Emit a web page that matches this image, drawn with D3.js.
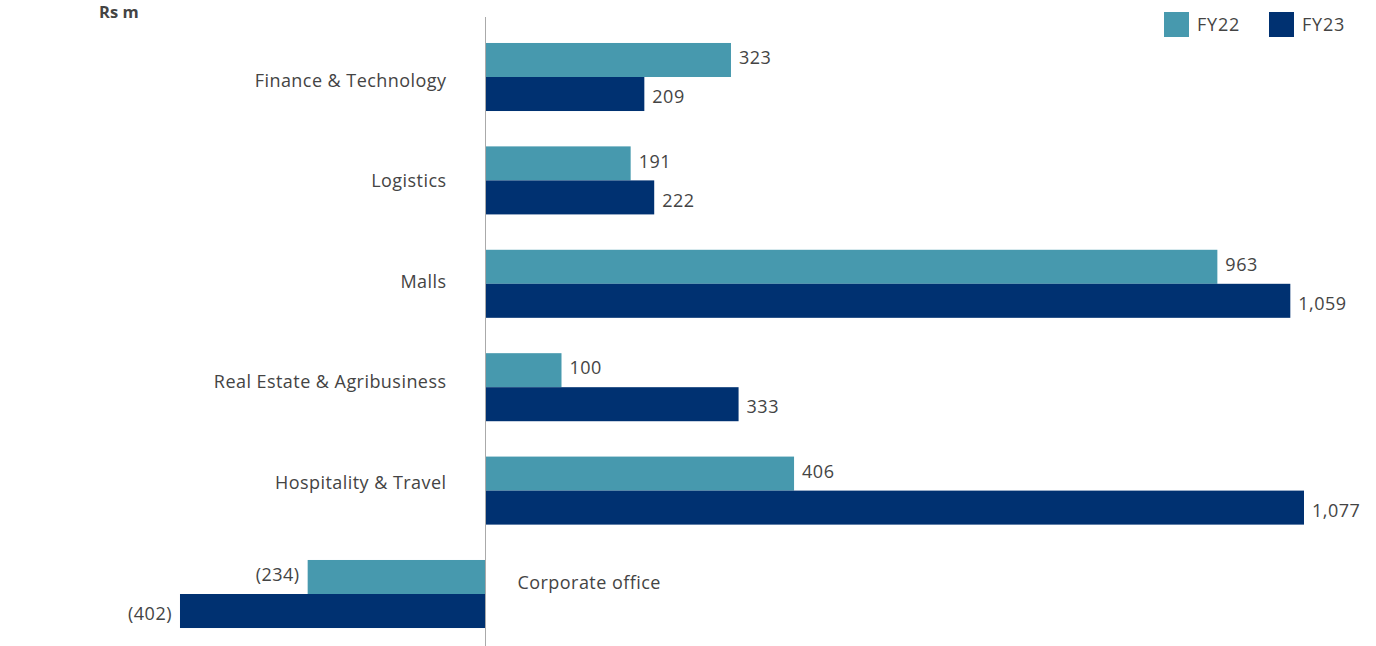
<!DOCTYPE html>
<html>
<head>
<meta charset="utf-8">
<script src="https://cdn.jsdelivr.net/npm/d3@7"></script>
<style>
  html, body { margin: 0; padding: 0; background: #fff; }
  svg { display: block; font-family: "Open Sans", "Lato", sans-serif; }
</style>
</head>
<body>
<svg id="chart" width="1376" height="646"></svg>
<script>
// Segment results, Rs m
const categories = ["Finance & Technology", "Logistics", "Malls", "Real Estate & Agribusiness", "Hospitality & Travel", "Corporate office"];
const seriesNames = ["FY22", "FY23"];
const fy22 = [323, 191, 963, 100, 406, -234];
const fy23 = [209, 222, 1059, 333, 1077, -402];
const colors = ["#4799ae", "#003171"];
const unitLabel = "Rs m";

const svg = d3.select("#chart");
const zeroX = 485.5;

const rows = categories.map((c, i) => ({ category: c, values: [fy22[i], fy23[i]] }));

const y = d3.scaleBand()
  .domain(categories)
  .range([25.3, 645.7])
  .paddingInner(0.342)
  .paddingOuter(0.171);

// category names sit on a slightly tighter grid than the bars
const yLabel = d3.scaleBand()
  .domain(categories)
  .range([30, 633]);

const ySeries = d3.scaleBand()
  .domain(seriesNames)
  .range([0, y.bandwidth()])
  .padding(0);

const x = d3.scaleLinear()
  .domain([0, d3.max([...fy22, ...fy23])])
  .range([zeroX, 1304]);

const fmt = v => {
  const s = d3.format(",")(Math.abs(v));
  return v < 0 ? "(" + s + ")" : s;
};

// bars
const groups = svg.append("g").selectAll("g")
  .data(rows)
  .join("g")
  .attr("transform", d => `translate(0,${y(d.category)})`);

groups.selectAll("rect")
  .data(d => d.values.map((v, j) => ({ v, s: seriesNames[j], j })))
  .join("rect")
  .attr("x", d => d.v >= 0 ? x(0) : x(d.v))
  .attr("y", d => ySeries(d.s))
  .attr("width", d => Math.abs(x(d.v) - x(0)))
  .attr("height", ySeries.bandwidth())
  .attr("fill", d => colors[d.j]);

// value labels
groups.selectAll("text.val")
  .data(d => d.values.map((v, j) => ({ v, s: seriesNames[j], j })))
  .join("text")
  .attr("class", "val")
  .attr("x", d => d.v >= 0 ? x(d.v) + 8 : x(d.v) - 8)
  .attr("y", d => ySeries(d.s) + ySeries.bandwidth() / 2 + (d.j === 0 ? -2 : 3))
  .attr("dy", "0.35em")
  .attr("text-anchor", d => d.v >= 0 ? "start" : "end")
  .attr("font-size", 18)
  .attr("letter-spacing", 0.5)
  .attr("fill", "#444")
  .text(d => fmt(d.v));

// category labels: left of the axis for gains, right of it for losses
svg.append("g").selectAll("text")
  .data(rows)
  .join("text")
  .attr("x", d => d3.min(d.values) < 0 ? zeroX + 32 : zeroX - 39)
  .attr("y", d => yLabel(d.category) + yLabel.bandwidth() / 2)
  .attr("dy", "0.35em")
  .attr("text-anchor", d => d3.min(d.values) < 0 ? "start" : "end")
  .attr("font-size", 18)
  .attr("letter-spacing", 0.45)
  .attr("fill", "#444")
  .text(d => d.category);

// zero axis
svg.append("line")
  .attr("x1", x(0)).attr("x2", x(0))
  .attr("y1", 17).attr("y2", 646)
  .attr("stroke", "#aaa")
  .attr("stroke-width", 1);

// unit label
svg.append("text")
  .attr("x", 99)
  .attr("y", 18)
  .attr("font-size", 16.5)
  .attr("font-weight", "bold")
  .attr("fill", "#444")
  .text(unitLabel);

// legend
const legend = svg.append("g").selectAll("g")
  .data(seriesNames)
  .join("g")
  .attr("transform", (d, i) => `translate(${1164 + i * 105},12)`);

legend.append("rect")
  .attr("width", 25).attr("height", 25)
  .attr("fill", (d, i) => colors[i]);

legend.append("text")
  .attr("x", 33)
  .attr("y", 12.5)
  .attr("dy", "0.35em")
  .attr("font-size", 18)
  .attr("letter-spacing", 0.8)
  .attr("fill", "#444")
  .text(d => d);
</script>
</body>
</html>
